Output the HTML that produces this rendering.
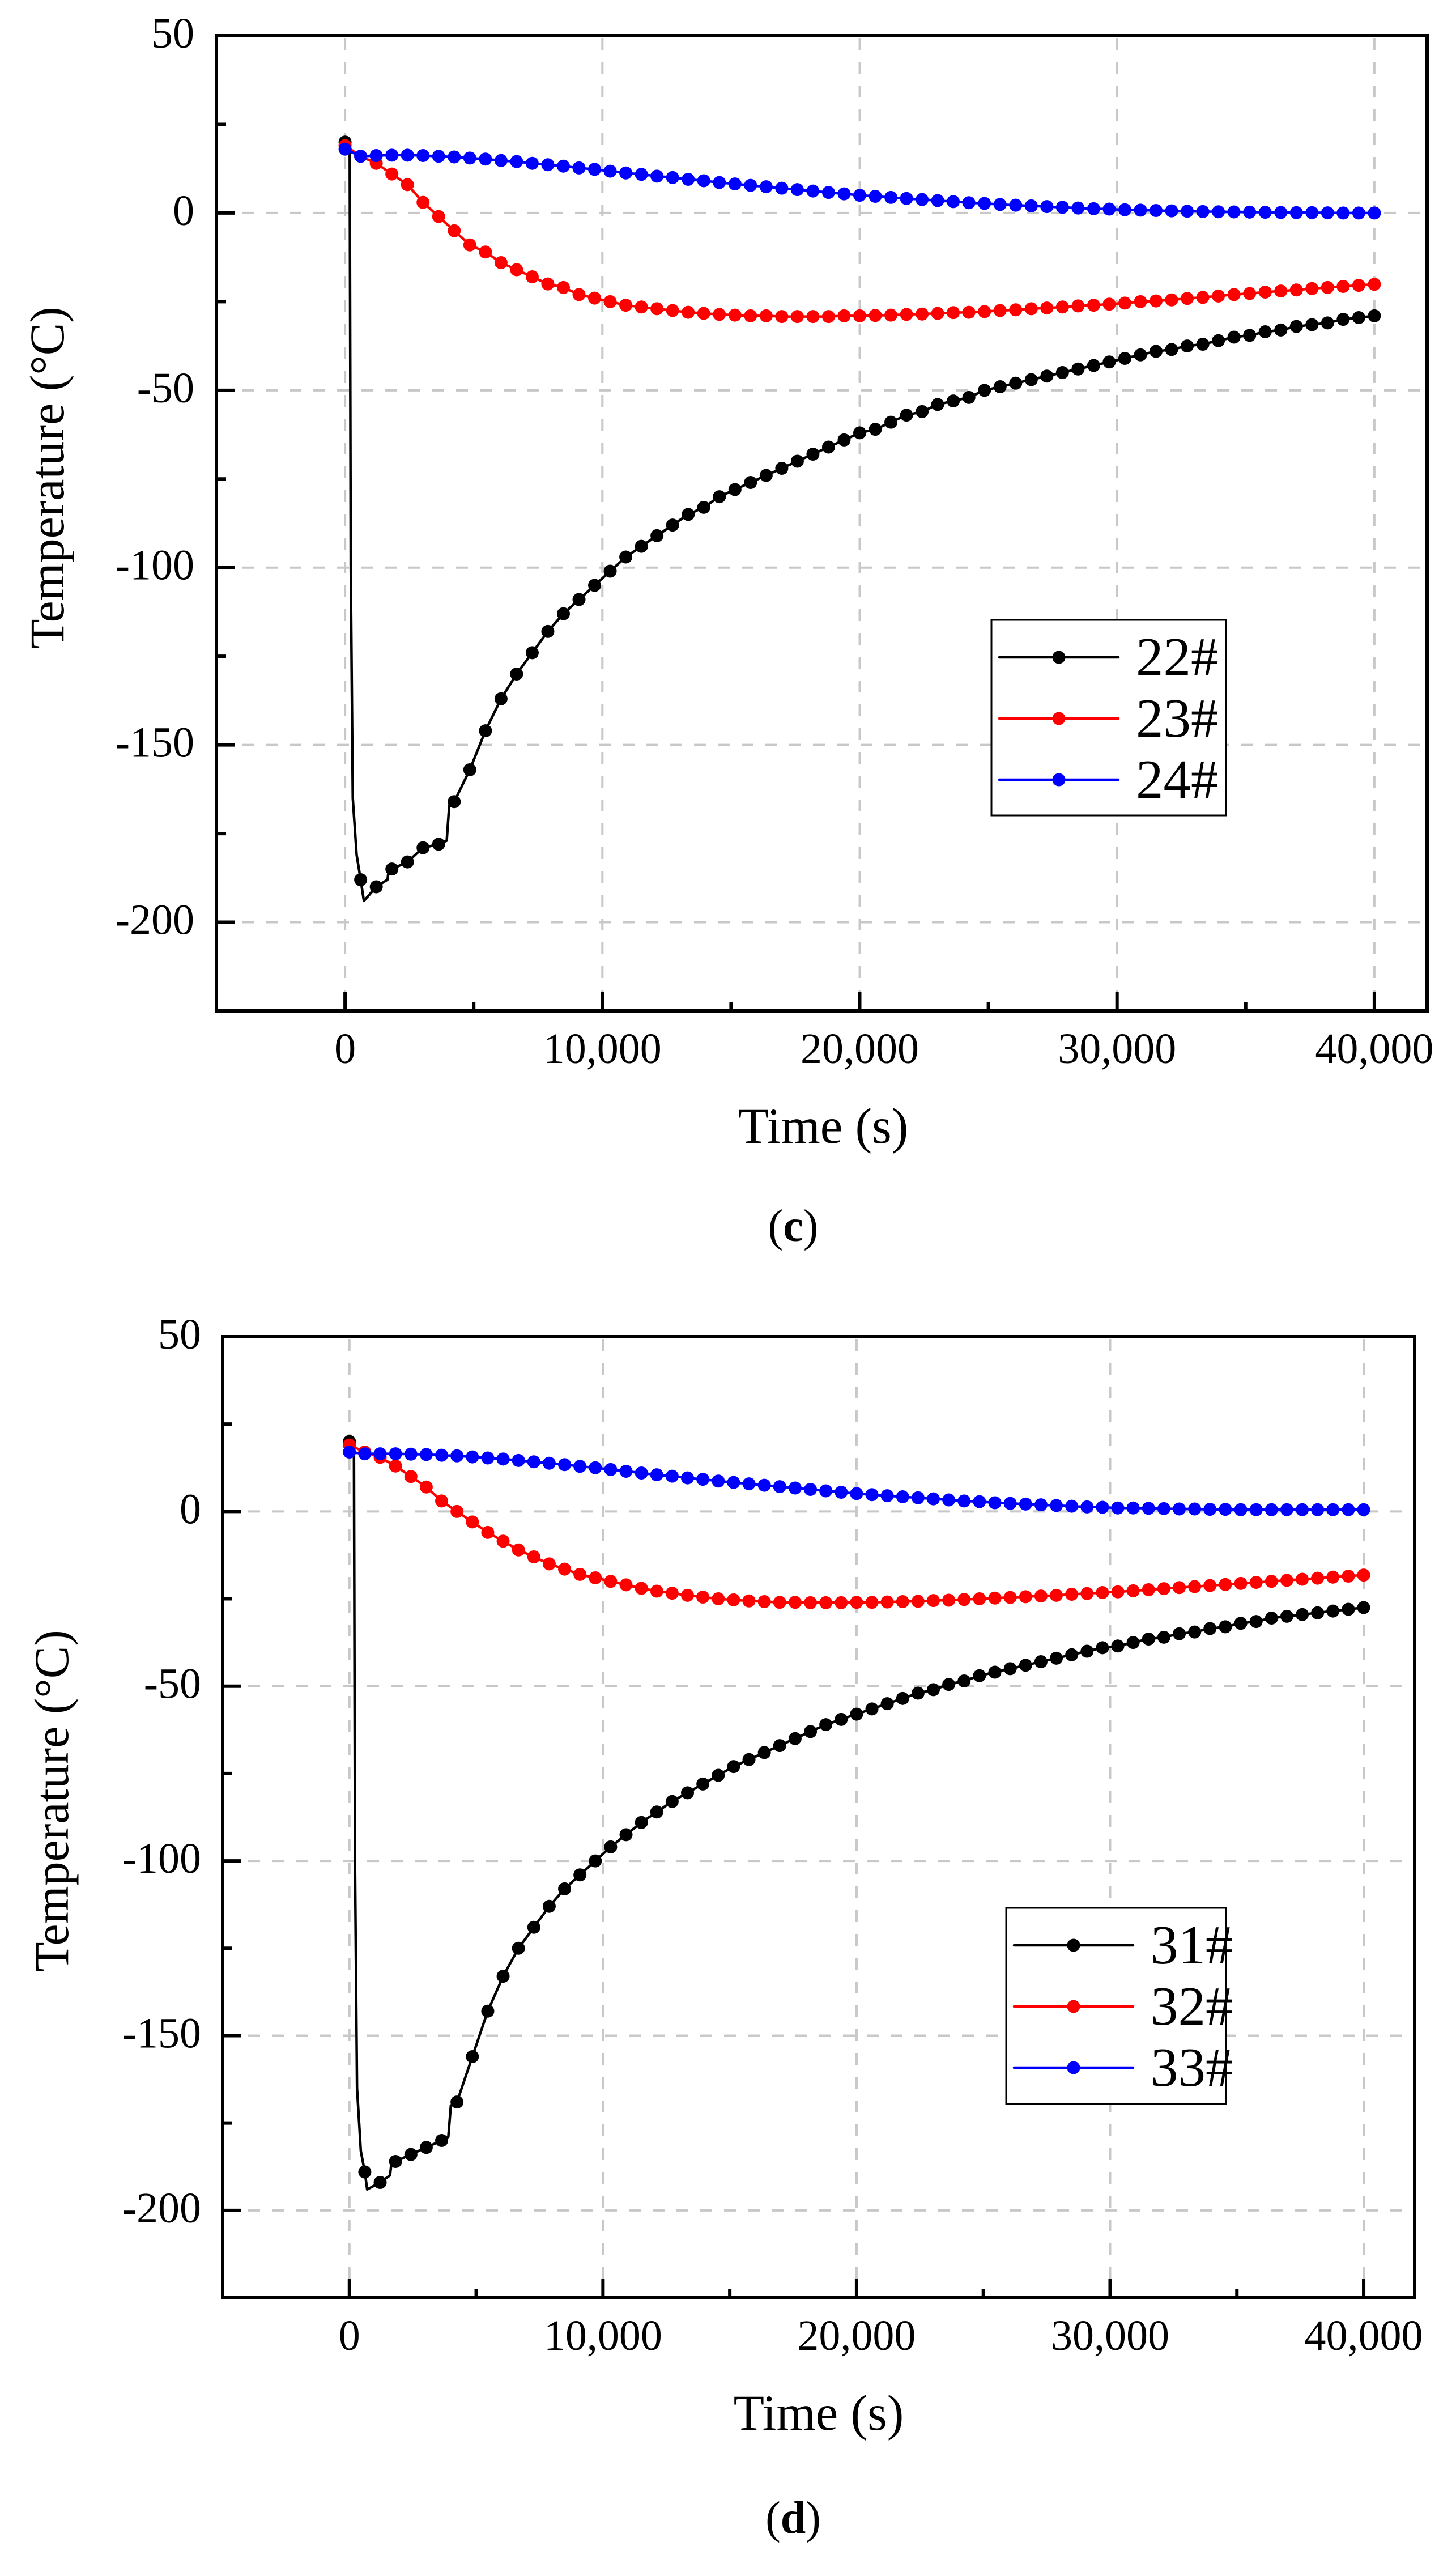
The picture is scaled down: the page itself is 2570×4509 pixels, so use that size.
<!DOCTYPE html>
<html><head><meta charset="utf-8"><title>Temperature vs time</title>
<style>
html,body{margin:0;padding:0;background:#fff;}
svg{display:block;}
text{font-family:"Liberation Serif",serif;fill:#000;}
</style></head>
<body>
<svg id="fig" xmlns="http://www.w3.org/2000/svg" width="2570" height="4509" viewBox="0 0 2570 4509">
<rect x="0" y="0" width="2570" height="4509" fill="#fff"/>
</svg>
<script>
// ---- data ----
const timesMain = [0,606,1212,1818,2424,3030,3636,4242,4848,5455,6061,6667,7273,7879,8485,9091,9697,10303,10909,11515,12121,12727,13333,13939,14545,15152,15758,16364,16970,17576,18182,18788,19394,20000,20606,21212,21818,22424,23030,23636,24242,24848,25455,26061,26667,27273,27879,28485,29091,29697,30303,30909,31515,32121,32727,33333,33939,34545,35152,35758,36364,36970,37576,38182,38788,39394,40000];

const c22 = [20,-188,-190,-185,-183,-179,-178,-166,-157,-146,-137,-130,-124,-118,-113,-109,-105,
 -101,-97,-94,-91,-88,-85,-83,-80,-78,-76,-74,-72,-70,-68,-66,-64,-62,-61,-59,-57,-56,-54,-53,-52,-50,-49,-48,-47,-46,-45,-44,-43,-42,-41,-40,-39,-38.5,-37.5,-37,-36,-35,-34.5,-33.5,-33,-32,-31.5,-31,-30,-29.5,-29];
const c22ExtraT = [180,220,300,450,730,1650,1700,3950,4050];
const c22ExtraV = [18,-100,-165,-181,-194,-188,-185,-177,-167];
const c23 = [19,16,14,11,8,3,-1,-5,-9,-11,-14,-16,-18,-20,-21,-23,-24,
 -25,-26,-26.5,-27,-27.5,-28,-28.3,-28.6,-28.8,-29,-29,-29.2,-29.2,-29.2,-29.2,-29,-29,-28.9,-28.8,-28.6,-28.5,-28.3,-28.1,-28,-27.8,-27.5,-27.3,-27,-26.8,-26.5,-26.2,-26,-25.7,-25.4,-25,-24.8,-24.5,-24.1,-23.8,-23.4,-23,-22.7,-22.3,-22,-21.7,-21.3,-21,-20.7,-20.4,-20.1];
const c24 = [18,16,16.2,16.3,16.3,16.2,16,15.8,15.5,15.2,14.8,14.5,14,13.6,13.2,12.7,12.3,
 11.8,11.3,10.9,10.4,10,9.5,9.1,8.6,8.2,7.8,7.4,7,6.6,6.2,5.8,5.4,5,4.7,4.4,4.1,3.8,3.5,3.2,2.9,2.7,2.4,2.2,2,1.8,1.6,1.4,1.2,1.1,0.9,0.8,0.7,0.6,0.5,0.4,0.35,0.3,0.25,0.2,0.15,0.1,0.1,0.05,0,0,0];

const d31 = [20,-189,-192,-186,-184,-182,-180,-169,-156,-143,-133,-125,-119,-113,-108,-104,-100,
 -96,-92.5,-89,-86,-83,-80.5,-78,-75.5,-73,-71,-69,-67,-65,-63,-61,-59.5,-58,-56.5,-55,-53.5,-52,-51,-49.5,-48.5,-47,-46,-45,-44,-43,-42,-41,-40,-39,-38.5,-37.5,-36.5,-36,-35,-34.5,-33.5,-33,-32,-31.5,-30.5,-30,-29.5,-29,-28.5,-28,-27.5];
const d31ExtraT = [180,220,300,450,700,1600,1650,3900,4000];
const d31ExtraV = [16,-100,-165,-183,-194,-190,-187,-179,-170];
const d32 = [19,17,15.5,13,10,7,3,0,-3,-6,-8.5,-11,-13,-15,-16.5,-18,-19,
 -20,-21,-22,-22.8,-23.4,-24,-24.5,-25,-25.3,-25.6,-25.8,-26,-26,-26.1,-26.1,-26.1,-26,-26,-25.9,-25.8,-25.7,-25.5,-25.4,-25.2,-25,-24.8,-24.6,-24.4,-24.2,-24,-23.7,-23.5,-23.2,-23,-22.7,-22.4,-22.1,-21.8,-21.5,-21.2,-20.9,-20.6,-20.3,-20,-19.7,-19.4,-19.1,-18.8,-18.5,-18.2];
const d33 = [17,16.5,16.5,16.5,16.4,16.3,16.1,15.9,15.6,15.3,15,14.6,14.2,13.8,13.4,12.9,12.5,
 12,11.5,11,10.5,10.1,9.6,9.2,8.7,8.3,7.9,7.5,7.1,6.7,6.3,5.9,5.5,5.1,4.8,4.5,4.2,3.9,3.6,3.3,3,2.8,2.5,2.3,2.1,1.9,1.7,1.5,1.3,1.2,1.0,1.0,0.9,0.8,0.7,0.7,0.6,0.6,0.5,0.5,0.5,0.5,0.5,0.5,0.5,0.5,0.5];

const xTickValues = [0,10000,20000,30000,40000];
const xTickLabels = ["0","10,000","20,000","30,000","40,000"];
const yTickValues = [50,0,-50,-100,-150,-200];
const yTickLabels = ["50","0","-50","-100","-150","-200"];
const legendC = ["22#","23#","24#"];
const legendD = ["31#","32#","33#"];

const NS = "http://www.w3.org/2000/svg";
const svg = document.getElementById('fig');
function mk(tag, attrs, parent){
  const e = document.createElementNS(NS, tag);
  for (const k in attrs) e.setAttribute(k, attrs[k]);
  (parent||svg).appendChild(e);
  return e;
}

function drawChart(cfg){
  const g = mk('g', {});
  
  
  const xs = v => cfg.x0 + (v - cfg.xmin) / (cfg.xmax - cfg.xmin) * (cfg.x1 - cfg.x0);
  const ys = v => cfg.y1 - (v - cfg.ymin) / (cfg.ymax - cfg.ymin) * (cfg.y1 - cfg.y0);

  for (const v of xTickValues){
    const l = mk('line', {x1:xs(v), x2:xs(v), y1:cfg.y0+4, y2:cfg.y1-4, stroke:'#c8c8c8','stroke-width':4,'stroke-dasharray':'21,21'}, g);
    
    
  }
  for (const v of yTickValues){
    if (v === cfg.ymax) continue;
    const l = mk('line', {x1:cfg.x0+45, x2:cfg.x1-4, y1:ys(v), y2:ys(v), stroke:'#c8c8c8','stroke-width':4,'stroke-dasharray':'21,21'}, g);
    
    
  }

  const cols = ['#000','#f00','#00f'];
  cfg.series.forEach((s, si) => {
    let pts = s.values.map((v,i)=>[timesMain[i], v]);
    if (s.extraT) s.extraT.forEach((t,i)=>pts.push([t, s.extraV[i]]));
    pts.sort((a,b)=>a[0]-b[0]);
    const sg = mk('g', {}, g);
    
    
    const path = mk('polyline', {points: pts.map(p=>xs(p[0]).toFixed(1)+','+ys(p[1]).toFixed(1)).join(' '), fill:'none', stroke:cols[si], 'stroke-width':4.5, 'stroke-linejoin':'round'}, sg);
    
    
    s.values.forEach((v,i)=>{
      const c = mk('circle', {cx:xs(timesMain[i]), cy:ys(v), r:11.5, fill:cols[si]}, sg);
      
      
    });
  });

  const fr = mk('rect', {x:cfg.x0, y:cfg.y0, width:cfg.x1-cfg.x0, height:cfg.y1-cfg.y0, fill:'none', stroke:'#000','stroke-width':6}, g);
  
  

  for (let v = cfg.xmin + 5000; v < cfg.xmax; v += 5000){
    const major = (v % 10000 === 0);
    const t = mk('line', {x1:xs(v), x2:xs(v), y1:cfg.y1, y2:cfg.y1-(major?33:16), stroke:'#000','stroke-width':6}, g);
    
    
  }
  xTickValues.forEach((v,i)=>{
    const t = mk('text', {x:xs(v), y:cfg.y1+92, 'text-anchor':'middle','font-size':76}, g);
    t.textContent = xTickLabels[i];
    
    
  });
  for (let v = cfg.ymin + 25; v < cfg.ymax; v += 25){
    const major = (v % 50 === 0);
    const t = mk('line', {x1:cfg.x0, x2:cfg.x0+(major?33:17), y1:ys(v), y2:ys(v), stroke:'#000','stroke-width':6}, g);
    
    
  }
  yTickValues.forEach((v,i)=>{
    const t = mk('text', {x:cfg.ylabX, y:ys(v)+21, 'text-anchor':'end','font-size':76}, g);
    t.textContent = yTickLabels[i];
    
    
  });

  const xt = mk('text', {x:cfg.xTitleX, y:cfg.xTitleY, 'text-anchor':'middle','font-size':89}, g);
  xt.textContent = 'Time (s)';
  
  
  const yt = mk('text', {x:0, y:0, 'text-anchor':'start','font-size':86, transform:'translate('+cfg.yTitleX+','+cfg.yTitleY+') rotate(-90)'}, g);
  yt.textContent = 'Temperature (°C)';
  
  

  const lg = mk('g', {}, g);
  
  
  const lb = mk('rect', {x:cfg.lx0, y:cfg.ly0, width:cfg.lx1-cfg.lx0, height:cfg.ly1-cfg.ly0, fill:'#fff', stroke:'#000','stroke-width':3}, lg);
  
  
  cfg.legend.forEach((lab, i)=>{
    const ey = cfg.ly0 + 66 + i*108;
    const eg = mk('g', {}, lg);
    
    
    mk('line', {x1:cfg.lx0+14, x2:cfg.lx0+224, y1:ey, y2:ey, stroke:cols[i], 'stroke-width':4.5, 'stroke-linecap':'round'}, eg);
    mk('circle', {cx:cfg.lx0+119, cy:ey, r:11.5, fill:cols[i]}, eg);
    const t = mk('text', {x:cfg.lx0+255, y:ey+32, 'font-size':97}, eg);
    t.textContent = lab;
  });

  const pl = mk('text', {x:cfg.panelX, y:cfg.panelY, 'text-anchor':'middle','font-size':80}, g);
  
  
  pl.appendChild(document.createTextNode('('));
  const b = mk('tspan', {'font-weight':'bold'}, pl);
  b.textContent = cfg.panel;
  pl.appendChild(document.createTextNode(')'));
}

drawChart({name:'chart-c', x0:382, x1:2519, y0:63, y1:1784, xmin:-5000, xmax:42050, ymin:-225, ymax:50,
  ylabX:343, xTitleX:1453, xTitleY:2017, yTitleX:112, yTitleY:1145,
  lx0:1750, lx1:2164, ly0:1094, ly1:1439, legend:legendC, panel:'c', panelX:1400, panelY:2190,
  series:[{label:'22#', values:c22, extraT:c22ExtraT, extraV:c22ExtraV},{label:'23#', values:c23},{label:'24#', values:c24}]});

drawChart({name:'chart-d', x0:393, x1:2497, y0:2359, y1:4055, xmin:-5000, xmax:42010, ymin:-225, ymax:50,
  ylabX:355, xTitleX:1445, xTitleY:4288, yTitleX:120, yTitleY:3480,
  lx0:1776, lx1:2164, ly0:3367, ly1:3713, legend:legendD, panel:'d', panelX:1400, panelY:4470,
  series:[{label:'31#', values:d31, extraT:d31ExtraT, extraV:d31ExtraV},{label:'32#', values:d32},{label:'33#', values:d33}]});
</script>
</body></html>
